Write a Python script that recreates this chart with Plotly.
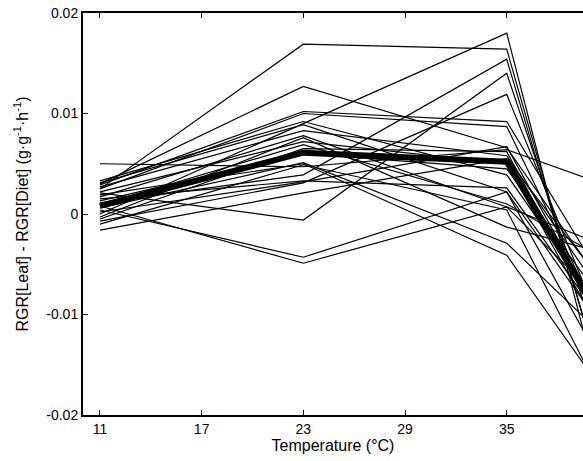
import plotly.graph_objects as go

temps = [11, 23, 35, 41]

# individual replicates (values at 11, 23, 35, 41 °C)
series = [
    [0.0025, 0.0169, 0.0164, -0.0191],
    [0.0030, 0.0127, 0.0066, -0.0079],
    [0.0000, 0.0090, 0.0180, -0.0213],
    [0.0011, 0.0039, 0.0154, -0.0187],
    [0.0021, -0.0006, 0.0140, -0.0161],
    [-0.0007, 0.0031, 0.0119, -0.0130],
    [0.0029, 0.0102, 0.0092, -0.0075],
    [0.0025, 0.0100, 0.0087, -0.0122],
    [0.0050, 0.0047, 0.0064, 0.0028],
    [0.0033, 0.0092, 0.0039, -0.0106],
    [0.0031, 0.0089, 0.0022, -0.0161],
    [0.0017, 0.0078, 0.0007, -0.0033],
    [-0.0003, 0.0076, -0.0013, -0.0040],
    [0.0022, 0.0072, 0.0050, -0.0131],
    [0.0006, 0.0051, -0.0029, -0.0126],
    [-0.0010, 0.0049, 0.0004, -0.0195],
    [0.0002, 0.0032, 0.0067, -0.0116],
    [-0.0016, 0.0021, 0.0055, -0.0076],
    [0.0004, -0.0043, 0.0022, -0.0122],
    [0.0008, -0.0049, 0.0007, -0.0093],
    [0.0019, 0.0050, -0.0041, -0.0184],
    [0.0013, 0.0060, 0.0045, -0.0095],
    [-0.0005, 0.0065, 0.0062, -0.0125],
    [0.0027, 0.0083, 0.0058, -0.0090],
    [0.0009, 0.0069, 0.0010, -0.0047],
    [0.0015, 0.0033, 0.0026, -0.0115],
]
mean_vals = [0.0008, 0.0061, 0.0052, -0.0115]

x_ticks = [11, 17, 23, 29, 35]
y_ticks = [-0.02, -0.01, 0, 0.01, 0.02]
y_tick_text = ["-0.02", "-0.01", "0", "0.01", "0.02"]

fig = go.Figure()
for s in series:
    fig.add_trace(go.Scatter(x=temps, y=s, mode="lines",
                             line=dict(color="black", width=1.2),
                             showlegend=False, hoverinfo="skip"))
fig.add_trace(go.Scatter(x=temps, y=mean_vals, mode="lines",
                         line=dict(color="black", width=6),
                         showlegend=False))

font = "Liberation Sans, Arial, sans-serif"
fig.update_layout(
    width=583, height=461,
    margin=dict(l=83, r=0, t=13, b=46),
    plot_bgcolor="white", paper_bgcolor="white",
    font=dict(family=font, size=14, color="black"),
    xaxis=dict(range=[10, 39.5], tickvals=x_ticks, ticks="inside", ticklen=5,
               tickwidth=1, tickcolor="black", showline=True, linecolor="black",
               linewidth=2, mirror="ticks", showgrid=False, zeroline=False,
               automargin=False,
               title=dict(text="Temperature (°C)", font=dict(size=16), standoff=0)),
    yaxis=dict(range=[-0.02, 0.02], tickvals=y_ticks, ticktext=y_tick_text,
               ticks="inside", ticklen=5, tickwidth=1, tickcolor="black",
               showline=True, linecolor="black", linewidth=2, showgrid=False,
               zeroline=False, automargin=False,
               title=dict(text="RGR[Leaf] - RGR[Diet] (g·g<sup>-1</sup>·h<sup>-1</sup>)",
                          font=dict(size=16), standoff=14)),
)
fig.write_html("out.html", config={"displayModeBar": False},
               post_script="document.body.style.margin='0';document.body.style.overflow='hidden';")
